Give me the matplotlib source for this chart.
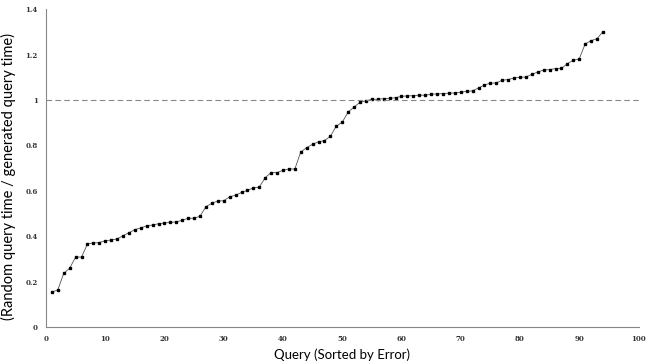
import matplotlib
matplotlib.use('Agg')
import numpy as np
import matplotlib.pyplot as plt

# ratio values, queries sorted by error
ratio = [
    0.153, 0.164, 0.236, 0.259, 0.308, 0.308, 0.366, 0.370, 0.372, 0.380,
    0.383, 0.388, 0.402, 0.415, 0.429, 0.436, 0.446, 0.449, 0.455, 0.458,
    0.461, 0.463, 0.470, 0.479, 0.479, 0.488, 0.530, 0.545, 0.555, 0.556,
    0.574, 0.580, 0.593, 0.602, 0.613, 0.616, 0.658, 0.680, 0.680, 0.690,
    0.696, 0.696, 0.771, 0.790, 0.805, 0.816, 0.821, 0.840, 0.885, 0.902,
    0.947, 0.969, 0.990, 0.996, 1.003, 1.003, 1.006, 1.007, 1.010, 1.016,
    1.018, 1.019, 1.021, 1.021, 1.025, 1.027, 1.028, 1.030, 1.031, 1.034,
    1.038, 1.040, 1.053, 1.066, 1.074, 1.075, 1.087, 1.090, 1.097, 1.100,
    1.101, 1.113, 1.123, 1.132, 1.134, 1.138, 1.139, 1.160, 1.175, 1.181,
    1.247, 1.261, 1.270, 1.301,
]
query = np.arange(1, len(ratio) + 1)

x_ticks = [0, 10, 20, 30, 40, 50, 60, 70, 80, 90, 100]
y_ticks = [0, 0.2, 0.4, 0.6, 0.8, 1.0, 1.2, 1.4]
y_tick_labels = ['0', '0.2', '0.4', '0.6', '0.8', '1', '1.2', '1.4']

fig = plt.figure(figsize=(6.54, 3.62), dpi=100)
ax = fig.add_axes([0.0703, 0.0967, 0.906, 0.878])

ax.plot(query, ratio, color='#555555', linewidth=0.6, marker='s',
        markersize=1.5, markerfacecolor='black', markeredgecolor='black')
ax.axhline(1.0, color='#888888', linewidth=0.8, linestyle=(0, (5, 3)))

ax.set_xlim(0, 100)
ax.set_ylim(0, 1.4)
ax.set_xticks(x_ticks)
ax.set_yticks(y_ticks)
ax.set_yticklabels(y_tick_labels)
ax.tick_params(length=0, pad=6)
for lbl in ax.get_xticklabels() + ax.get_yticklabels():
    lbl.set_fontfamily('DejaVu Serif')
    lbl.set_fontsize(5)
    lbl.set_fontweight('bold')
    lbl.set_color('#333333')

for side in ['top', 'right']:
    ax.spines[side].set_visible(False)
for side in ['left', 'bottom']:
    ax.spines[side].set_color('#888888')
    ax.spines[side].set_linewidth(0.8)

ax.set_xlabel('Query (Sorted by Error)', fontfamily='Lato', fontsize=9.5, labelpad=4)
ax.set_ylabel('(Random query time / generated query time)', fontfamily='Lato',
              fontsize=10.5)
ax.yaxis.set_label_coords(-0.05, 0.475)

fig.savefig('out.png', dpi=100)
